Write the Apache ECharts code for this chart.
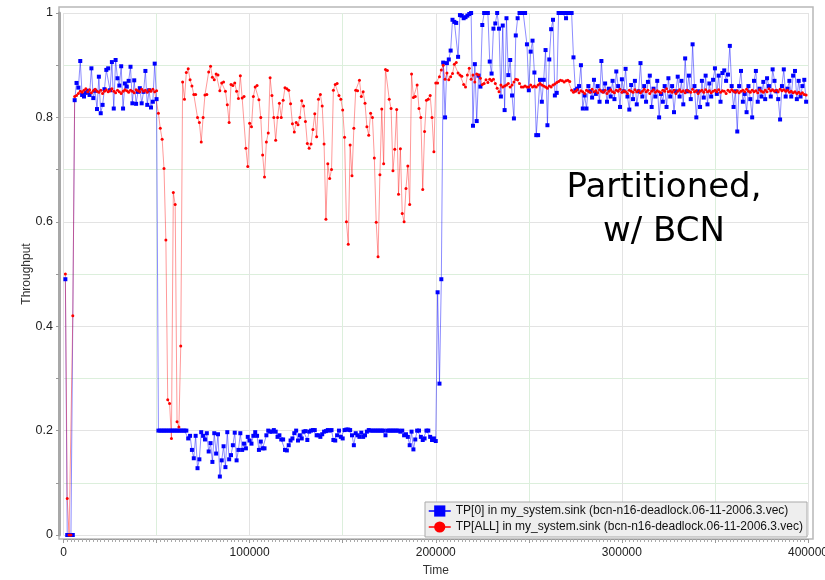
<!DOCTYPE html>
<html>
<head>
<meta charset="utf-8">
<script src="https://cdn.jsdelivr.net/npm/echarts@6/dist/echarts.min.js"></script>
<style>
html,body{margin:0;padding:0;background:#fff;}
#chart{width:825px;height:580px;}
</style>
</head>
<body>
<div id="chart"></div>
<script>
// sample spacing along the Time axis (first sample at Time = 1000)
const sampleStep = 1000;

const seriesNames = [
  'TP[0] in my_system.sink (bcn-n16-deadlock.06-11-2006.3.vec)',
  'TP[ALL] in my_system.sink (bcn-n16-deadlock.06-11-2006.3.vec)'
];

const xTicks = [0, 100000, 200000, 300000, 400000];
const yTicks = [0, 0.2, 0.4, 0.6, 0.8, 1];

// TP[0]
const tp0 = [
  0.49, 0, 0, 0, 0, 0.833, 0.866, 0.857, 0.908, 0.843,
  0.840, 0.847, 0.851, 0.843, 0.894, 0.837, 0.851, 0.816, 0.878, 0.808,
  0.824, 0.854, 0.891, 0.894, 0.852, 0.906, 0.817, 0.910, 0.875, 0.861,
  0.898, 0.817, 0.865, 0.859, 0.870, 0.897, 0.827, 0.871, 0.826, 0.849,
  0.856, 0.827, 0.849, 0.889, 0.824, 0.852, 0.819, 0.830, 0.903, 0.835,
  0.2, 0.2, 0.2, 0.2, 0.2, 0.2, 0.2, 0.2, 0.2, 0.2,
  0.2, 0.2, 0.2, 0.2, 0.2, 0.2, 0.185, 0.19, 0.163, 0.147,
  0.19, 0.128, 0.145, 0.197, 0.19, 0.183, 0.195, 0.16, 0.176, 0.14,
  0.195, 0.156, 0.193, 0.112, 0.143, 0.17, 0.13, 0.197, 0.145, 0.153,
  0.172, 0.196, 0.143, 0.163, 0.195, 0.163, 0.175, 0.166, 0.188, 0.181,
  0.175, 0.19, 0.197, 0.19, 0.163, 0.179, 0.166, 0.166, 0.191, 0.2,
  0.198, 0.198, 0.201, 0.198, 0.188, 0.191, 0.183, 0.183, 0.163, 0.162,
  0.172, 0.181, 0.185, 0.195, 0.2, 0.181, 0.191, 0.185, 0.198, 0.199,
  0.182, 0.198, 0.2, 0.201, 0.201, 0.191, 0.191, 0.188, 0.193, 0.198,
  0.199, 0.201, 0.2, 0.201, 0.182, 0.181, 0.191, 0.2, 0.188, 0.185,
  0.201, 0.202, 0.202, 0.201, 0.191, 0.172, 0.195, 0.191, 0.188, 0.196,
  0.188, 0.191, 0.198, 0.201, 0.2, 0.2, 0.2, 0.2, 0.2, 0.2,
  0.2, 0.2, 0.191, 0.2, 0.2, 0.2, 0.2, 0.2, 0.2, 0.2,
  0.198, 0.2, 0.191, 0.193, 0.188, 0.172, 0.198, 0.164, 0.183, 0.2,
  0.2, 0.188, 0.182, 0.185, 0.2, 0.2, 0.188, 0.182, 0.185, 0.18,
  0.465, 0.29, 0.49, 0.905, 0.80, 0.904, 0.911, 0.928, 0.987, 0.983,
  0.981, 0.916, 0.996, 0.995, 0.99, 0.992, 0.995, 0.998, 1.0, 0.784,
  0.902, 0.793, 0.88, 0.859, 0.977, 1.0, 1.0, 1.0, 0.907, 0.884,
  0.97, 0.98, 1.0, 0.97, 0.84, 0.976, 0.814, 0.99, 0.881, 0.91,
  0.842, 0.798, 0.957, 0.99, 1.0, 1.0, 1.0, 1.0, 0.94, 0.852,
  0.926, 0.947, 0.886, 0.766, 0.766, 0.872, 0.83, 0.872, 0.929, 0.785,
  0.911, 0.969, 0.987, 0.842, 0.847, 1.0, 1.0, 1.0, 1.0, 0.99,
  1.0, 1.0, 1.0, 0.915, 0.852, 0.855, 0.86, 0.90, 0.817, 0.842,
  0.817, 0.86, 0.85, 0.838, 0.872, 0.845, 0.86, 0.83, 0.908, 0.85,
  0.865, 0.83, 0.855, 0.84, 0.87, 0.835, 0.888, 0.86, 0.82, 0.873,
  0.85, 0.893, 0.84, 0.815, 0.862, 0.835, 0.87, 0.825, 0.85, 0.904,
  0.84, 0.86, 0.83, 0.868, 0.88, 0.82, 0.855, 0.84, 0.87, 0.80,
  0.845, 0.83, 0.86, 0.82, 0.875, 0.84, 0.86, 0.81, 0.85, 0.878,
  0.84, 0.87, 0.825, 0.913, 0.85, 0.88, 0.835, 0.94, 0.86, 0.80,
  0.85, 0.82, 0.87, 0.838, 0.88, 0.825, 0.865, 0.84, 0.872, 0.894,
  0.845, 0.88, 0.83, 0.885, 0.89, 0.87, 0.882, 0.937, 0.86, 0.82,
  0.85, 0.773, 0.86, 0.889, 0.83, 0.845, 0.81, 0.86, 0.835, 0.80,
  0.87, 0.889, 0.83, 0.855, 0.84, 0.868, 0.835, 0.875, 0.86, 0.84,
  0.892, 0.87, 0.85, 0.835, 0.796, 0.86, 0.892, 0.84, 0.855, 0.87,
  0.84, 0.88, 0.889, 0.835, 0.87, 0.84, 0.86, 0.872, 0.83
];

// TP[ALL]
const tpAll = [
  0.50, 0.07, 0, 0, 0.42, 0.84, 0.842, 0.846, 0.85, 0.848,
  0.852, 0.855, 0.849, 0.853, 0.847, 0.851, 0.854, 0.85, 0.848, 0.852,
  0.846, 0.85, 0.853, 0.849, 0.851, 0.855, 0.85, 0.847, 0.852, 0.849,
  0.846, 0.85, 0.853, 0.851, 0.848, 0.852, 0.85, 0.847, 0.853, 0.851,
  0.849, 0.854, 0.85, 0.852, 0.848, 0.853, 0.85, 0.854, 0.849, 0.851,
  0.808, 0.779, 0.758, 0.702, 0.565, 0.259, 0.252, 0.185, 0.656, 0.633,
  0.217, 0.207, 0.362, 0.868, 0.835, 0.886, 0.893, 0.872, 0.86, 0.844,
  0.844, 0.80, 0.79, 0.753, 0.80, 0.843, 0.844, 0.887, 0.898, 0.877,
  0.872, 0.883, 0.881, 0.851, 0.866, 0.868, 0.85, 0.824, 0.79, 0.863,
  0.861, 0.866, 0.85, 0.836, 0.88, 0.837, 0.84, 0.741, 0.706, 0.789,
  0.782, 0.84, 0.858, 0.861, 0.834, 0.80, 0.728, 0.686, 0.753, 0.77,
  0.876, 0.842, 0.80, 0.756, 0.80, 0.827, 0.80, 0.833, 0.857, 0.855,
  0.852, 0.826, 0.788, 0.772, 0.79, 0.786, 0.80, 0.832, 0.822, 0.792,
  0.75, 0.741, 0.749, 0.777, 0.807, 0.763, 0.835, 0.844, 0.822, 0.749,
  0.605, 0.711, 0.683, 0.70, 0.852, 0.863, 0.865, 0.842, 0.835, 0.814,
  0.762, 0.60, 0.557, 0.747, 0.688, 0.779, 0.852, 0.851, 0.871, 0.84,
  0.849, 0.827, 0.782, 0.766, 0.808, 0.80, 0.722, 0.599, 0.533, 0.69,
  0.816, 0.711, 0.892, 0.89, 0.835, 0.817, 0.698, 0.739, 0.815, 0.653,
  0.74, 0.616, 0.60, 0.664, 0.707, 0.633, 0.883, 0.838, 0.84, 0.862,
  0.817, 0.80, 0.662, 0.773, 0.833, 0.835, 0.842, 0.80, 0.734, 0.866,
  0.866, 0.878, 0.891, 0.90, 0.873, 0.885, 0.872, 0.878, 0.884, 0.902,
  0.905, 0.885, 0.881, 0.879, 0.863, 0.858, 0.881, 0.894, 0.873, 0.881,
  0.868, 0.883, 0.881, 0.875, 0.863, 0.865, 0.872, 0.867, 0.873, 0.87,
  0.873, 0.865, 0.856, 0.849, 0.862, 0.858, 0.86, 0.862, 0.865, 0.858,
  0.862, 0.868, 0.873, 0.872, 0.865, 0.858, 0.858, 0.86, 0.858, 0.858,
  0.862, 0.858, 0.86, 0.858, 0.862, 0.865, 0.862, 0.86, 0.858, 0.856,
  0.86, 0.858, 0.862, 0.864, 0.867, 0.869, 0.871, 0.87, 0.868, 0.87,
  0.871, 0.869, 0.852, 0.848, 0.85, 0.853, 0.847, 0.851, 0.849, 0.846,
  0.852, 0.85, 0.848, 0.854, 0.849, 0.851, 0.847, 0.853, 0.85, 0.848,
  0.852, 0.846, 0.85, 0.853, 0.849, 0.847, 0.852, 0.85, 0.854, 0.848,
  0.851, 0.849, 0.846, 0.852, 0.85, 0.848, 0.853, 0.849, 0.851, 0.847,
  0.85, 0.854, 0.849, 0.852, 0.846, 0.85, 0.853, 0.848, 0.851, 0.849,
  0.847, 0.852, 0.85, 0.855, 0.849, 0.851, 0.848, 0.852, 0.846, 0.85,
  0.853, 0.849, 0.851, 0.847, 0.852, 0.85, 0.848, 0.854, 0.849, 0.851,
  0.846, 0.85, 0.852, 0.848, 0.853, 0.849, 0.851, 0.847, 0.85, 0.852,
  0.849, 0.853, 0.848, 0.851, 0.85, 0.846, 0.852, 0.849, 0.853, 0.85,
  0.848, 0.851, 0.847, 0.85, 0.852, 0.849, 0.854, 0.85, 0.848, 0.852,
  0.849, 0.851, 0.847, 0.853, 0.85, 0.848, 0.852, 0.849, 0.855, 0.851,
  0.853, 0.85, 0.852, 0.849, 0.854, 0.851, 0.853, 0.85, 0.852, 0.848,
  0.85, 0.847, 0.849, 0.846, 0.848, 0.845, 0.847, 0.844, 0.843
];

const toPairs = vals => vals.map((v, i) => [(i + 1) * sampleStep, v]);

const chart = echarts.init(document.getElementById('chart'), null, {renderer: 'canvas'});
const font = 'Liberation Sans, Arial, sans-serif';

chart.setOption({
  animation: false,
  backgroundColor: '#ffffff',
  grid: {left: 63.5, right: 17, top: 13, bottom: 45, containLabel: false, outerBoundsMode: 'none'},
  xAxis: {
    type: 'value', min: 0, max: 400000, interval: 50000, offset: 4,
    name: 'Time', nameLocation: 'middle', nameGap: 26, nameMoveOverlap: false,
    nameTextStyle: {fontFamily: font, fontSize: 12, color: '#333'},
    axisLine: {show: true, onZero: false, lineStyle: {color: '#9a9a9a', width: 1}},
    axisTick: {show: true, length: 4, lineStyle: {color: '#999'}},
    minorTick: {show: true, splitNumber: 25, length: 3, lineStyle: {color: '#aaa'}},
    axisLabel: {
      fontFamily: font, fontSize: 12, color: '#222', margin: 8,
      formatter: v => xTicks.indexOf(v) >= 0 ? String(v) : ''
    },
    splitLine: {show: true, lineStyle: {color: ['#e3e3e3', '#dcefdc'], width: 1}},
    minorSplitLine: {show: false}
  },
  yAxis: {
    type: 'value', min: 0, max: 1, interval: 0.1, offset: 4.5,
    name: 'Throughput', nameLocation: 'middle', nameGap: 26, nameMoveOverlap: false,
    nameTextStyle: {fontFamily: font, fontSize: 12, color: '#333'},
    axisLine: {show: true, onZero: false, lineStyle: {color: '#a8a8a8', width: 3}},
    axisTick: {show: true, length: 3, lineStyle: {color: '#999'}},
    axisLabel: {
      fontFamily: font, fontSize: 12.5, color: '#222', margin: 6,
      formatter: v => {
        const r = Math.round(v * 10) / 10;
        return yTicks.indexOf(r) >= 0 ? String(r) : '';
      }
    },
    splitLine: {show: true, lineStyle: {color: ['#e3e3e3', '#dcefdc'], width: 1}}
  },
  legend: {
    data: seriesNames,
    orient: 'vertical', left: 425, top: 502,
    itemWidth: 22, itemHeight: 14, itemGap: 4,
    padding: [3, 4, 4, 3],
    backgroundColor: '#eeeeee', borderColor: '#a9a9a9', borderWidth: 1, borderRadius: 0,
    textStyle: {fontFamily: font, fontSize: 12, color: '#111'},
    lineStyle: {opacity: 1, width: 1.5},
    selectedMode: false
  },
  graphic: [
    {
      type: 'rect', silent: true, z: -1,
      shape: {x: 59, y: 7, width: 754, height: 532},
      style: {fill: 'none', stroke: '#b8b8b8', lineWidth: 1.5}
    },
    {
      type: 'text', silent: true, z: 10,
      x: 664, y: 166,
      style: {
        text: 'Partitioned,\nw/ BCN',
        fontFamily: 'DejaVu Sans, sans-serif', fontSize: 34, lineHeight: 44,
        fill: '#000', textAlign: 'center', textVerticalAlign: 'top'
      }
    }
  ],
  series: [
    {
      name: seriesNames[0], type: 'line', data: toPairs(tp0),
      symbol: 'rect', symbolSize: 4, showSymbol: true, clip: false,
      lineStyle: {color: '#0000ff', width: 1, opacity: 0.45},
      itemStyle: {color: '#0000ff'},
      emphasis: {disabled: true}
    },
    {
      name: seriesNames[1], type: 'line', data: toPairs(tpAll),
      symbol: 'circle', symbolSize: 3, showSymbol: true, clip: false,
      lineStyle: {color: '#ff0000', width: 1, opacity: 0.4},
      itemStyle: {color: '#ff0000'},
      emphasis: {disabled: true}
    }
  ]
});
</script>
</body>
</html>
